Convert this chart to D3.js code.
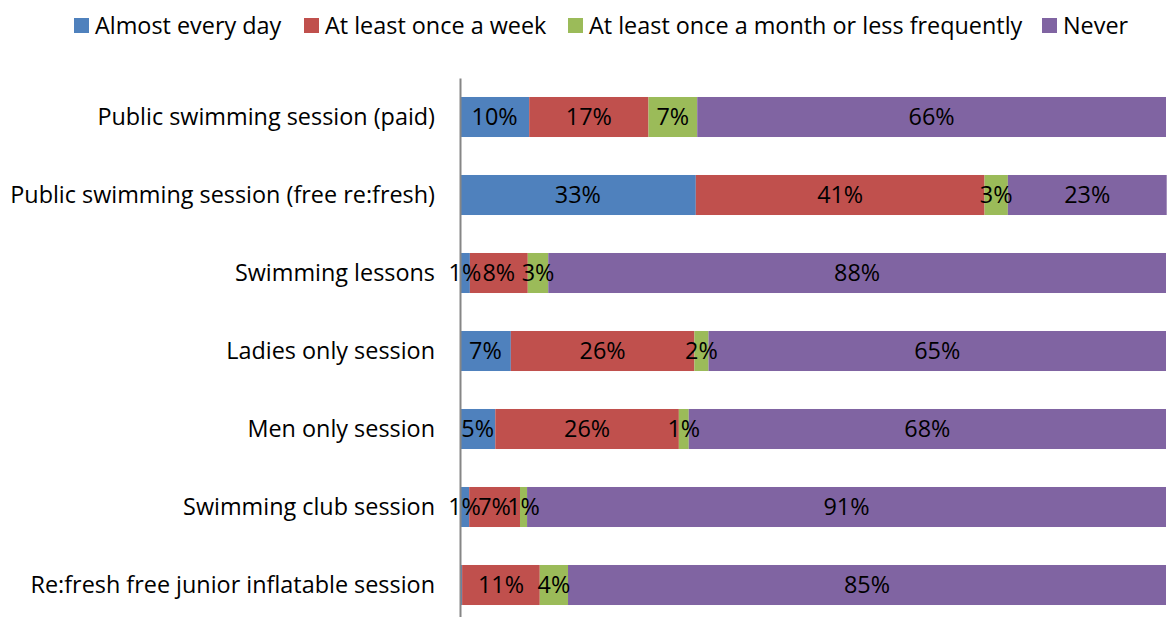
<!DOCTYPE html>
<html>
<head>
<meta charset="utf-8">
<script src="https://cdn.jsdelivr.net/npm/d3@7"></script>
<style>
  body { margin: 0; background: #fff; }
  svg text { font-family: "Open Sans", Lato, sans-serif; fill: #000; }
</style>
</head>
<body>
<div id="chart"></div>
<script>
// categories (top to bottom)
var categories = [
  "Public swimming session (paid)",
  "Public swimming session (free re:fresh)",
  "Swimming lessons",
  "Ladies only session",
  "Men only session",
  "Swimming club session",
  "Re:fresh free junior inflatable session"
];
var seriesNames = ["Almost every day", "At least once a week", "At least once a month or less frequently", "Never"];
// percentages
var almostEveryDay = [9.8, 33.4, 1.4, 7.2, 5.0, 1.3, 0.3];
var onceAWeek      = [16.9, 40.9, 8.2, 26.0, 26.0, 7.2, 11.0];
var onceAMonth     = [6.9, 3.3, 2.9, 2.0, 1.4, 1.0, 4.0];
var never          = [66.4, 22.5, 87.5, 64.8, 67.6, 90.5, 84.7];
var colors = ["#4F81BD", "#C0504D", "#9BBB59", "#8064A2"];

var width = 1168, height = 617;
var fontSize = "23.4px";
var svg = d3.select("#chart").append("svg")
  .attr("width", width).attr("height", height);

var rows = categories.map(function(c, i) {
  return { cat: c, v0: almostEveryDay[i], v1: onceAWeek[i], v2: onceAMonth[i], v3: never[i] };
});
var stack = d3.stack().keys(["v0", "v1", "v2", "v3"])(rows);

var x = d3.scaleLinear().domain([0, 100]).range([460, 1166]);
var y = d3.scaleBand().domain(categories).range([78, 624])
  .paddingInner(0.487).paddingOuter(0.2435);

// bars
var layer = svg.selectAll(".layer").data(stack).enter().append("g")
  .attr("fill", function(d, i) { return colors[i]; });
layer.selectAll("rect").data(function(d) { return d; }).enter().append("rect")
  .attr("x", function(d) { return x(d[0]); })
  .attr("y", function(d) { return y(d.data.cat); })
  .attr("width", function(d) { return x(d[1]) - x(d[0]); })
  .attr("height", y.bandwidth());

// data labels, drawn on top of every bar
var labels = [];
stack.forEach(function(s) { s.forEach(function(d) { labels.push(d); }); });
svg.append("g").selectAll("text").data(labels).enter().append("text")
  .attr("x", function(d) { return (x(d[0]) + x(d[1])) / 2; })
  .attr("y", function(d) { return y(d.data.cat) + y.bandwidth() / 2; })
  .attr("dy", "0.36em")
  .attr("text-anchor", "middle")
  .style("font-size", fontSize)
  .text(function(d) { var v = d[1] - d[0]; return v >= 0.5 ? Math.round(v) + "%" : ""; });

// category axis
var yAxis = svg.append("g").attr("transform", "translate(460,0)")
  .call(d3.axisLeft(y).tickSize(0).tickPadding(25));
yAxis.select(".domain").attr("stroke", "#868686").attr("stroke-width", 2);
yAxis.selectAll("text").style("font-size", fontSize).style("font-family", "'Open Sans', Lato, sans-serif");

// legend
var legendX = [74, 304, 568, 1042];
var legend = svg.selectAll(".legend").data(seriesNames).enter().append("g")
  .attr("transform", function(d, i) { return "translate(" + legendX[i] + ",18)"; });
legend.append("rect").attr("width", 15).attr("height", 15)
  .attr("fill", function(d, i) { return colors[i]; });
legend.append("text").attr("x", 21).attr("y", 7.5).attr("dy", "0.36em")
  .style("font-size", fontSize).text(function(d) { return d; });
</script>
</body>
</html>
